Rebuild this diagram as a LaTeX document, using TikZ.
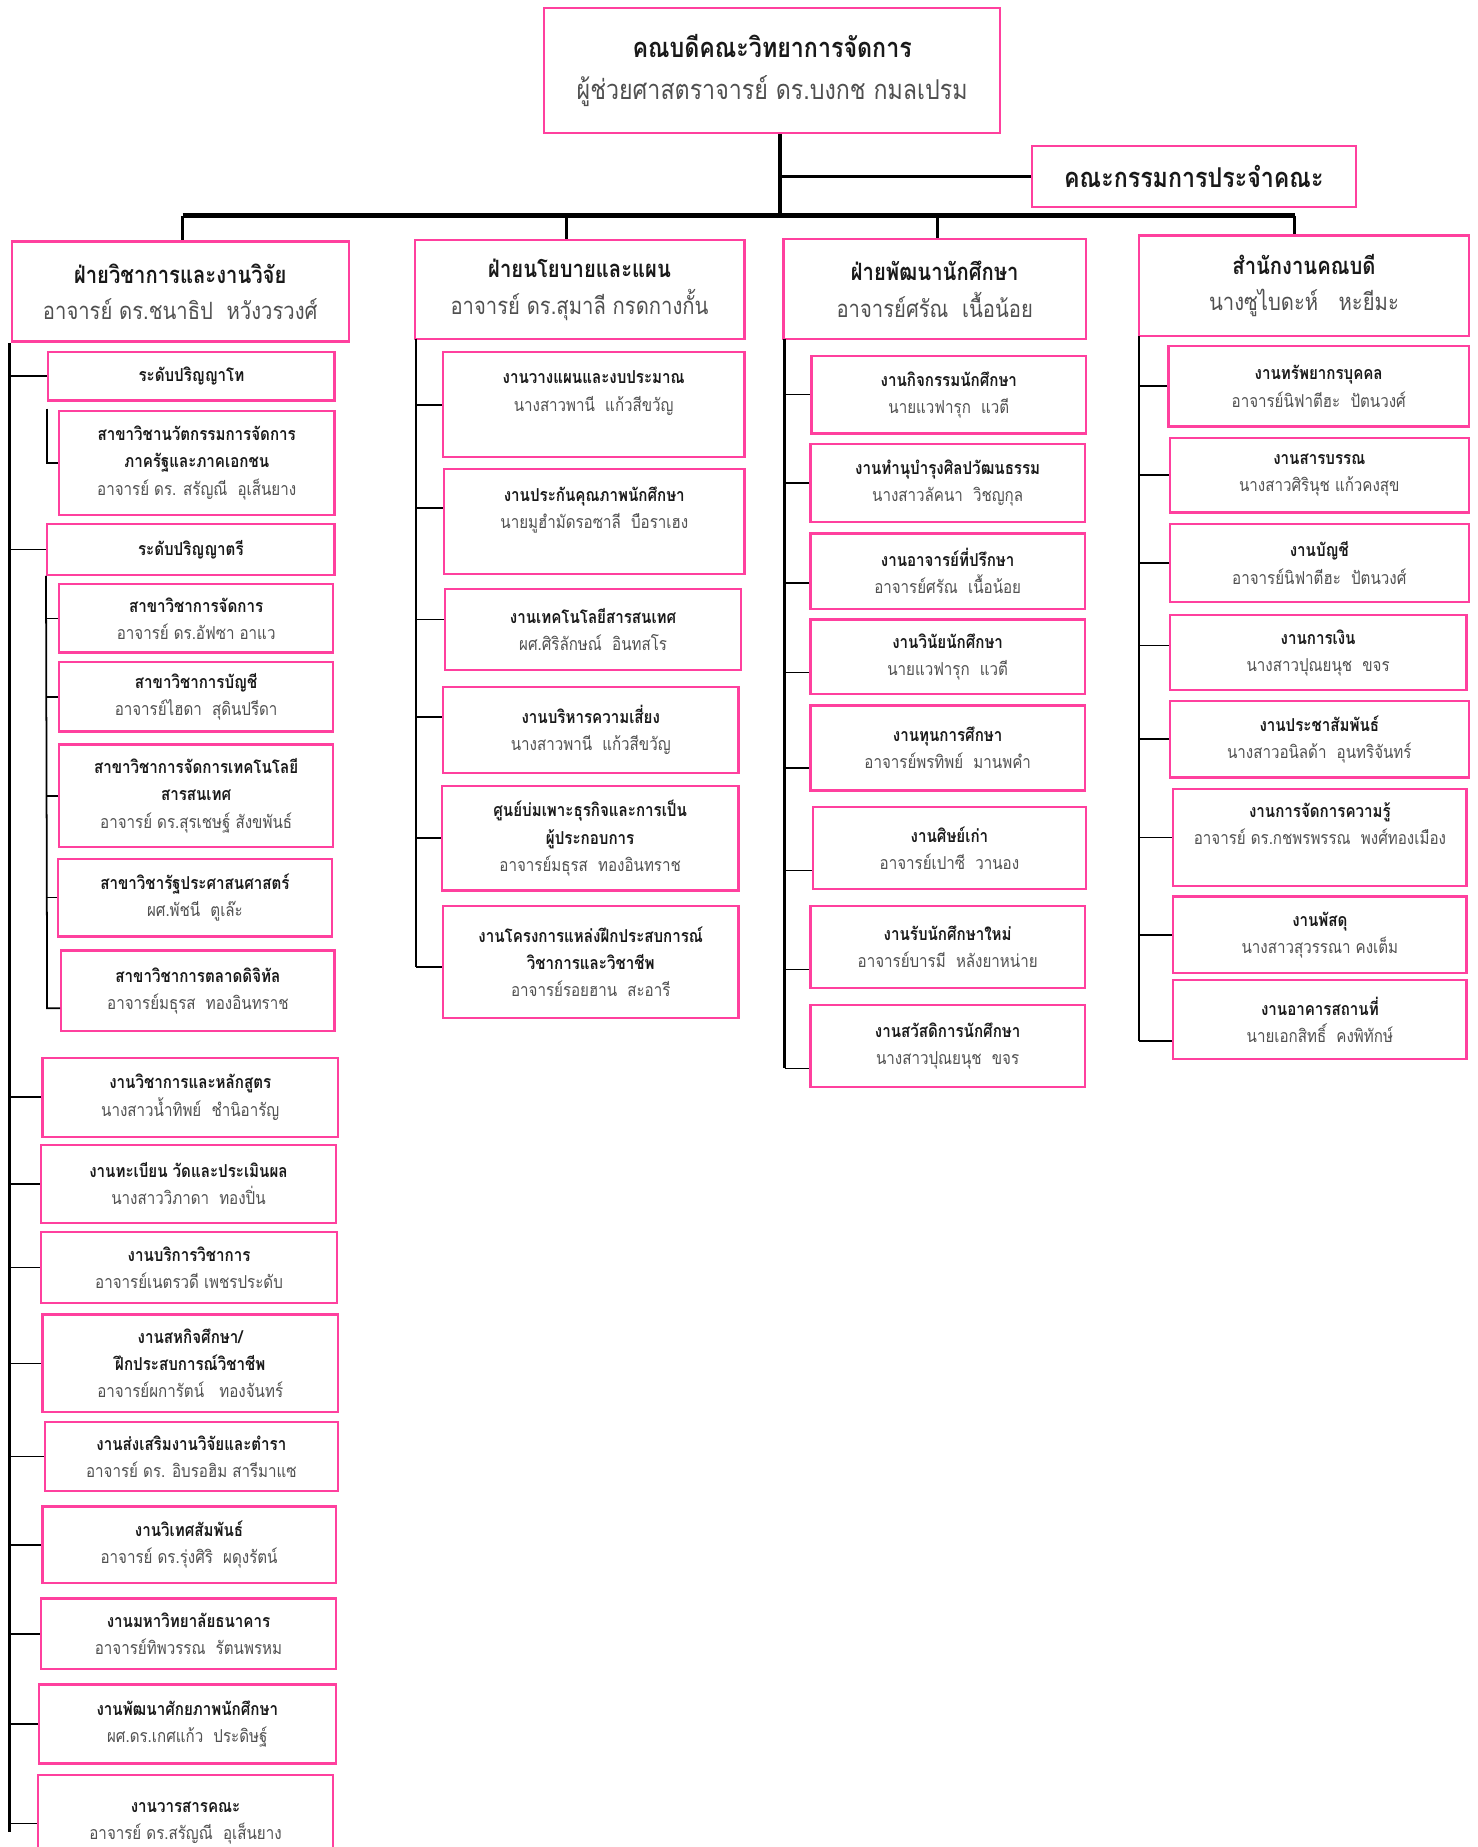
\documentclass[tikz,border=0pt]{standalone}
\usepackage{fontspec}
\setmainfont{Loma}[Script=Thai, FakeStretch=0.85]
\usetikzlibrary{calc}
\definecolor{org_pink}{RGB}{255, 64, 158}
\definecolor{org_grey}{RGB}{80, 80, 80}
\definecolor{org_ink}{RGB}{25, 25, 25}
\newcommand{\nm}[1]{{\mdseries\color{org_grey}#1}}
\tikzstyle{topbox}=[rectangle,draw=org_pink,line width=1.1pt,align=center,
  inner sep=2pt,text=org_ink,font=\bfseries\fontsize{13.2}{20.5}\selectfont]
\tikzstyle{hdbox}=[rectangle,draw=org_pink,line width=1.1pt,align=center,
  inner sep=2pt,text=org_ink,font=\bfseries\fontsize{11.5}{17.6}\selectfont]
\tikzstyle{ubox}=[rectangle,draw=org_pink,line width=1.1pt,align=center,
  inner sep=2pt,text=org_ink,font=\bfseries\fontsize{8.6}{13.1}\selectfont]
\tikzstyle{link}=[draw=black,line width=0.85pt]
\tikzstyle{spine}=[draw=black,line width=1.1pt]
\tikzstyle{trunk}=[draw=black,line width=1.7pt]
\tikzstyle{bus}=[draw=black,line width=2.3pt]

\begin{document}
\begin{tikzpicture}[x=0.02cm, y=-0.02cm]
    \useasboundingbox (0,0) rectangle (1254,1568);
    % top
    \node [style=topbox, minimum width=7.74cm, minimum height=2.12cm] (dean) at (655.5, 60) {คณบดีคณะวิทยาการจัดการ\\ \nm{ผู้ช่วยศาสตราจารย์ ดร.บงกช กมลเปรม}};
    \node [style=topbox, minimum width=5.5cm, minimum height=1.04cm] (cmte) at (1013.5, 150) {คณะกรรมการประจำคณะ};
    \coordinate (trunk) at (662, 183);
    \coordinate (busL) at (155, 183);
    \coordinate (bus2) at (481, 183);
    \coordinate (bus3) at (796, 183);
    \coordinate (busR) at (1099, 183);
    % heads
    \node [style=hdbox, minimum width=5.72cm, minimum height=1.7cm] (hd1) at (153, 247.5) {ฝ่ายวิชาการและงานวิจัย\\ \nm{อาจารย์ ดร.ชนาธิป\ \ หวังวรวงศ์}};
    \node [style=hdbox, minimum width=5.6cm, minimum height=1.68cm] (hd2) at (492, 246) {ฝ่ายนโยบายและแผน\\ \nm{อาจารย์ ดร.สุมาลี กรดกางกั้น}};
    \node [style=hdbox, minimum width=5.14cm, minimum height=1.7cm] (hd3) at (793.5, 245.5) {ฝ่ายพัฒนานักศึกษา\\ \nm{อาจารย์ศรัณ\ \ เนื้อน้อย}};
    \node [style=hdbox, minimum width=5.6cm, minimum height=1.7cm] (hd4) at (1107, 242.5) {สำนักงานคณบดี\\ \nm{นางซูไบดะห์\ \ \ หะยีมะ}};
    \draw [style=trunk] (trunk |- dean.south) to (trunk);
    \draw [style=trunk] (trunk |- cmte.west) to (cmte.west);
    \draw [style=bus] (busL) to (busR);
    \draw [style=trunk] (busL) to (busL |- hd1.north);
    \draw [style=trunk] (bus2) to (bus2 |- hd2.north);
    \draw [style=trunk] (bus3) to (bus3 |- hd3.north);
    \draw [style=trunk] (busR) to (busR |- hd4.north);

    % column 1
    \node [style=ubox, minimum width=4.86cm, minimum height=0.82cm] (ms) at (162.5, 319.5) {ระดับปริญญาโท};
    \node [style=ubox, minimum width=4.68cm, minimum height=1.76cm] (msa) at (167, 393) {สาขาวิชานวัตกรรมการจัดการ\\ภาครัฐและภาคเอกชน\\ \nm{อาจารย์ ดร. สรัญณี\ \ อุเส็นยาง}};
    \node [style=ubox, minimum width=4.88cm, minimum height=0.86cm] (ba) at (162, 466.5) {ระดับปริญญาตรี};
    \node [style=ubox, minimum width=4.66cm, minimum height=1.16cm] (b1) at (166.5, 525) {สาขาวิชาการจัดการ\\ \nm{อาจารย์ ดร.อัฟซา อาแว}};
    \node [style=ubox, minimum width=4.66cm, minimum height=1.18cm] (b2) at (166.5, 591.5) {สาขาวิชาการบัญชี\\ \nm{อาจารย์ไฮดา\ \ สุดินปรีดา}};
    \node [style=ubox, minimum width=4.66cm, minimum height=1.74cm] (b3) at (166.5, 675.5) {สาขาวิชาการจัดการเทคโนโลยี\\สารสนเทศ\\ \nm{อาจารย์ ดร.สุรเชษฐ์ สังขพันธ์}};
    \node [style=ubox, minimum width=4.66cm, minimum height=1.32cm] (b4) at (165.5, 762) {สาขาวิชารัฐประศาสนศาสตร์\\ \nm{ผศ.พัชนี\ \ ตูเล๊ะ}};
    \node [style=ubox, minimum width=4.64cm, minimum height=1.36cm] (b5) at (168, 841) {สาขาวิชาการตลาดดิจิทัล\\ \nm{อาจารย์มธุรส\ \ ทองอินทราช}};
    \node [style=ubox, minimum width=5.02cm, minimum height=1.34cm] (w1) at (161.5, 931.5) {งานวิชาการและหลักสูตร\\ \nm{นางสาวน้ำทิพย์\ \ ชำนิอารัญ}};
    \node [style=ubox, minimum width=5.0cm, minimum height=1.32cm] (w2) at (160, 1005) {งานทะเบียน วัดและประเมินผล\\ \nm{นางสาววิภาดา\ \ ทองปิ่น}};
    \node [style=ubox, minimum width=5.02cm, minimum height=1.2cm] (w3) at (160.5, 1076) {งานบริการวิชาการ\\ \nm{อาจารย์เนตรวดี เพชรประดับ}};
    \node [style=ubox, minimum width=5.02cm, minimum height=1.66cm] (w4) at (161.5, 1157.5) {งานสหกิจศึกษา/\\ฝึกประสบการณ์วิชาชีพ\\ \nm{อาจารย์ผการัตน์\ \ \ ทองจันทร์}};
    \node [style=ubox, minimum width=4.98cm, minimum height=1.18cm] (w5) at (162.5, 1236.5) {งานส่งเสริมงานวิจัยและตำรา\\ \nm{อาจารย์ ดร. อิบรอฮิม สารีมาแซ}};
    \node [style=ubox, minimum width=4.98cm, minimum height=1.3cm] (w6) at (160.5, 1311.5) {งานวิเทศสัมพันธ์\\ \nm{อาจารย์ ดร.รุ่งศิริ\ \ ผดุงรัตน์}};
    \node [style=ubox, minimum width=5.0cm, minimum height=1.2cm] (w7) at (160, 1387) {งานมหาวิทยาลัยธนาคาร\\ \nm{อาจารย์ทิพวรรณ\ \ รัตนพรหม}};
    \node [style=ubox, minimum width=5.04cm, minimum height=1.34cm] (w8) at (159, 1463.5) {งานพัฒนาศักยภาพนักศึกษา\\ \nm{ผศ.ดร.เกศแก้ว\ \ ประดิษฐ์}};
    \node [style=ubox, minimum width=5.02cm, minimum height=1.64cm] (w9) at (157.5, 1548) {งานวารสารคณะ\\ \nm{อาจารย์ ดร.สรัญณี\ \ อุเส็นยาง}};
    \coordinate (c1top) at (8, 291);
    \coordinate (c1bot) at (8, 1555);
    \coordinate (msub) at (40, 347);
    \coordinate (bsub) at (40, 856);
    \draw [style=spine] (c1top) to (c1bot);
    \draw [style=link] (c1top |- ms.west) to (ms.west);
    \draw [style=link] (msub) |- (msa.west);
    \draw [style=link] (c1top |- ba.west) to (ba.west);
    \draw [style=link] (ba.south west) to (bsub) to (bsub -| b5.west);
    \draw [style=link] (ba.south west |- b1.west) to (b1.west);
    \draw [style=link] (ba.south west |- b2.west) to (b2.west);
    \draw [style=link] (ba.south west |- b3.west) to (b3.west);
    \draw [style=link] (ba.south west |- b4.west) to (b4.west);
    \draw [style=link] (c1top |- w1.west) to (w1.west);
    \draw [style=link] (c1top |- w2.west) to (w2.west);
    \draw [style=link] (c1top |- w3.west) to (w3.west);
    \draw [style=link] (c1top |- w4.west) to (w4.west);
    \draw [style=link] (c1top |- w5.west) to (w5.west);
    \draw [style=link] (c1top |- w6.west) to (w6.west);
    \draw [style=link] (c1top |- w7.west) to (w7.west);
    \draw [style=link] (c1top |- w8.west) to (w8.west);
    \draw [style=link] (c1top |- w9.west) to (w9.west);

    % column 2
    \node [style=ubox, minimum width=5.12cm, minimum height=1.78cm] (p1) at (504, 343.5) {งานวางแผนและงบประมาณ\\ \nm{นางสาวพานี\ \ แก้วสีขวัญ}\\ \mbox{}};
    \node [style=ubox, minimum width=5.1cm, minimum height=1.78cm] (p2) at (504.5, 442.5) {งานประกันคุณภาพนักศึกษา\\ \nm{นายมูฮำมัดรอซาลี\ \ บือราเฮง}\\ \mbox{}};
    \node [style=ubox, minimum width=5.02cm, minimum height=1.38cm] (p3) at (503.5, 534.5) {งานเทคโนโลยีสารสนเทศ\\ \nm{ผศ.ศิริลักษณ์\ \ อินทสโร}};
    \node [style=ubox, minimum width=5.02cm, minimum height=1.46cm] (p4) at (501.5, 619.5) {งานบริหารความเสี่ยง\\ \nm{นางสาวพานี\ \ แก้วสีขวัญ}};
    \node [style=ubox, minimum width=5.04cm, minimum height=1.78cm] (p5) at (501, 711.5) {ศูนย์บ่มเพาะธุรกิจและการเป็น\\ผู้ประกอบการ\\ \nm{อาจารย์มธุรส\ \ ทองอินทราช}};
    \node [style=ubox, minimum width=5.02cm, minimum height=1.9cm] (p6) at (501.5, 816.5) {งานโครงการแหล่งฝึกประสบการณ์\\วิชาการและวิชาชีพ\\ \nm{อาจารย์รอยฮาน\ \ สะอารี}};
    \coordinate (c2top) at (353, 288);
    \coordinate (p2t) at ($(p2.west)+(0,-11.5)$);
    \coordinate (p3t) at ($(p3.west)+(0,-8.5)$);
    \coordinate (p4t) at ($(p4.west)+(0,-10.5)$);
    \coordinate (p6t) at ($(p6.west)+(0,4.5)$);
    \draw [style=spine] (c2top) to (c2top |- p6t);
    \draw [style=link] (c2top |- p1.west) to (p1.west);
    \draw [style=link] (c2top |- p2t) to (p2t);
    \draw [style=link] (c2top |- p3t) to (p3t);
    \draw [style=link] (c2top |- p4t) to (p4t);
    \draw [style=link] (c2top |- p5.west) to (p5.west);
    \draw [style=link] (c2top |- p6t) to (p6t);

    % column 3
    \node [style=ubox, minimum width=4.66cm, minimum height=1.32cm] (s1) at (805.5, 335) {งานกิจกรรมนักศึกษา\\ \nm{นายแวฟารุก\ \ แวตี}};
    \node [style=ubox, minimum width=4.66cm, minimum height=1.32cm] (s2) at (804.5, 410) {งานทำนุบำรุงศิลปวัฒนธรรม\\ \nm{นางสาวลัคนา\ \ วิชญกุล}};
    \node [style=ubox, minimum width=4.66cm, minimum height=1.28cm] (s3) at (804.5, 485) {งานอาจารย์ที่ปรึกษา\\ \nm{อาจารย์ศรัณ\ \ เนื้อน้อย}};
    \node [style=ubox, minimum width=4.66cm, minimum height=1.26cm] (s4) at (804.5, 557.5) {งานวินัยนักศึกษา\\ \nm{นายแวฟารุก\ \ แวตี}};
    \node [style=ubox, minimum width=4.66cm, minimum height=1.44cm] (s5) at (804.5, 635) {งานทุนการศึกษา\\ \nm{อาจารย์พรทิพย์\ \ มานพคำ}};
    \node [style=ubox, minimum width=4.64cm, minimum height=1.4cm] (s6) at (806, 720) {งานศิษย์เก่า\\ \nm{อาจารย์เปาซี\ \ วานอง}};
    \node [style=ubox, minimum width=4.66cm, minimum height=1.4cm] (s7) at (804.5, 804) {งานรับนักศึกษาใหม่\\ \nm{อาจารย์บารมี\ \ หลังยาหน่าย}};
    \node [style=ubox, minimum width=4.66cm, minimum height=1.4cm] (s8) at (804.5, 888) {งานสวัสดิการนักศึกษา\\ \nm{นางสาวปุณยนุช\ \ ขจร}};
    \coordinate (c3top) at (666, 288);
    \coordinate (s3t) at ($(s3.west)+(0,10)$);
    \coordinate (s4t) at ($(s4.west)+(0,13.5)$);
    \coordinate (s5t) at ($(s5.west)+(0,17)$);
    \coordinate (s6t) at ($(s6.west)+(0,19)$);
    \coordinate (s7t) at ($(s7.west)+(0,19)$);
    \coordinate (s8t) at ($(s8.west)+(0,19)$);
    \draw [style=spine] (c3top) to (c3top |- s8t);
    \draw [style=link] (c3top |- s1.west) to (s1.west);
    \draw [style=link] (c3top |- s2.west) to (s2.west);
    \draw [style=link] (c3top |- s3t) to (s3t);
    \draw [style=link] (c3top |- s4t) to (s4t);
    \draw [style=link] (c3top |- s5t) to (s5t);
    \draw [style=link] (c3top |- s6t) to (s6t);
    \draw [style=link] (c3top |- s7t) to (s7t);
    \draw [style=link] (c3top |- s8t) to (s8t);

    % column 4
    \node [style=ubox, minimum width=5.1cm, minimum height=1.36cm] (o1) at (1119.5, 328) {งานทรัพยากรบุคคล\\ \nm{อาจารย์นิฟาตีฮะ\ \ ปัตนวงศ์}};
    \node [style=ubox, minimum width=5.08cm, minimum height=1.26cm] (o2) at (1120, 403.5) {งานสารบรรณ\\ \nm{นางสาวศิรินุช แก้วคงสุข}};
    \node [style=ubox, minimum width=5.08cm, minimum height=1.32cm] (o3) at (1120, 478) {งานบัญชี\\ \nm{อาจารย์นิฟาตีฮะ\ \ ปัตนวงศ์}};
    \node [style=ubox, minimum width=5.04cm, minimum height=1.28cm] (o4) at (1119, 554) {งานการเงิน\\ \nm{นางสาวปุณยนุช\ \ ขจร}};
    \node [style=ubox, minimum width=5.08cm, minimum height=1.3cm] (o5) at (1120, 627.5) {งานประชาสัมพันธ์\\ \nm{นางสาวอนิลด้า\ \ อุนทริจันทร์}};
    \node [style=ubox, minimum width=4.98cm, minimum height=1.64cm] (o6) at (1120.5, 711) {งานการจัดการความรู้\\ \nm{อาจารย์ ดร.กชพรพรรณ\ \ พงศ์ทองเมือง}\\ \mbox{}};
    \node [style=ubox, minimum width=4.98cm, minimum height=1.3cm] (o7) at (1120.5, 793.5) {งานพัสดุ\\ \nm{นางสาวสุวรรณา คงเต็ม}};
    \node [style=ubox, minimum width=4.98cm, minimum height=1.34cm] (o8) at (1120.5, 865.5) {งานอาคารสถานที่\\ \nm{นายเอกสิทธิ์\ \ คงพิทักษ์}};
    \coordinate (c4top) at (967, 285);
    \coordinate (o4t) at ($(o4.west)+(0,-6)$);
    \coordinate (o8t) at ($(o8.west)+(0,18)$);
    \draw [style=spine] (c4top) to (c4top |- o8t);
    \draw [style=link] (c4top |- o1.west) to (o1.west);
    \draw [style=link] (c4top |- o2.west) to (o2.west);
    \draw [style=link] (c4top |- o3.west) to (o3.west);
    \draw [style=link] (c4top |- o4t) to (o4t);
    \draw [style=link] (c4top |- o5.west) to (o5.west);
    \draw [style=link] (c4top |- o6.west) to (o6.west);
    \draw [style=link] (c4top |- o7.west) to (o7.west);
    \draw [style=link] (c4top |- o8t) to (o8t);
\end{tikzpicture}
\end{document}
